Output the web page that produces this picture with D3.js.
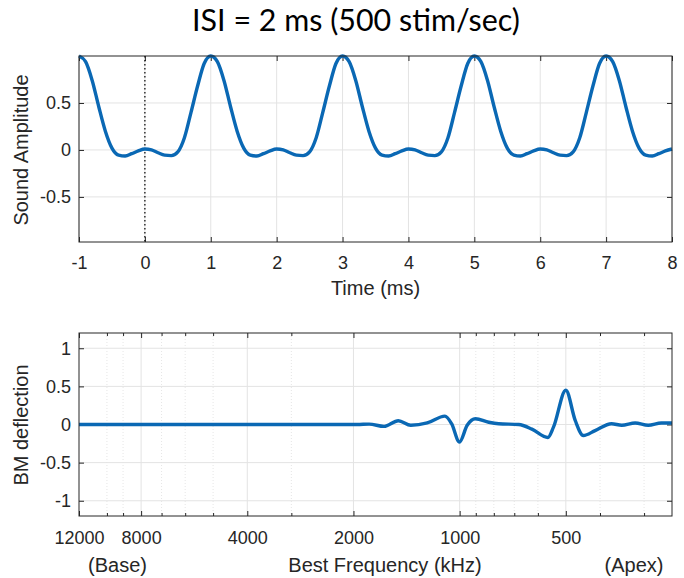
<!DOCTYPE html>
<html>
<head>
<meta charset="utf-8">
<script src="https://cdn.jsdelivr.net/npm/d3@7"></script>
<style>
  body { margin: 0; background: #fff; }
  svg text { font-family: "Liberation Sans", Arial, sans-serif; fill: #262626; }
</style>
</head>
<body>
<div id="chart"></div>
<script>
// --- top panel: sound waveform, one sample every 0.1 ms starting at -1 ms
const timeStart = -1
const timeStep = 0.1
const soundAmplitude = [
  1.0, 0.94, 0.74, 0.46, 0.2, 0.02, -0.055, -0.065, -0.04, -0.01,
  0.01, 0.0, -0.03, -0.055, -0.06, -0.02, 0.13, 0.40, 0.68, 0.92,
  1.0, 0.94, 0.74, 0.46, 0.2, 0.02, -0.055, -0.065, -0.04, -0.01,
  0.01, 0.0, -0.03, -0.055, -0.06, -0.02, 0.13, 0.40, 0.68, 0.92,
  1.0, 0.94, 0.74, 0.46, 0.2, 0.02, -0.055, -0.065, -0.04, -0.01,
  0.01, 0.0, -0.03, -0.055, -0.06, -0.02, 0.13, 0.40, 0.68, 0.92,
  1.0, 0.94, 0.74, 0.46, 0.2, 0.02, -0.055, -0.065, -0.04, -0.01,
  0.01, 0.0, -0.03, -0.055, -0.06, -0.02, 0.13, 0.40, 0.68, 0.92,
  1.0, 0.94, 0.74, 0.46, 0.2, 0.02, -0.055, -0.065, -0.04, -0.01,
  0.01
]
const timeTicks = [-1, 0, 1, 2, 3, 4, 5, 6, 7, 8]
const ampTicks = [-0.5, 0, 0.5]

// --- bottom panel: BM deflection along the cochlea
const bestFreq = [12000, 10000, 8000, 6000, 4000, 3000, 2400, 2200, 1950, 1806,
  1638, 1492, 1376, 1236, 1101, 1054, 1001, 952, 902, 827,
  775, 680, 624, 562, 542, 500, 470, 446, 413, 371,
  347, 318, 292, 268, 253, 250]
const bmDeflection = [0, 0, 0, 0, 0, 0, 0, 0, 0, 0.005,
  -0.025, 0.05, -0.01, 0.02, 0.11, 0.01, -0.23, -0.01, 0.075, 0.03,
  0.01, 0, -0.06, -0.17, -0.035, 0.45, 0.05, -0.145, -0.08, 0.01,
  -0.01, 0.02, -0.01, 0.02, 0.02, 0.02]
const freqTicks = [12000, 8000, 4000, 2000, 1000, 500]
const freqMinorTicks = [10000, 9000, 7000, 6000, 5000, 3000, 900, 800, 700, 600, 400, 300]
const bmTicks = [-1, -0.5, 0, 0.5, 1]

const width = 684
const height = 578
const lineColor = '#0a68b4'
const axisColor = '#262626'
const gridColor = '#e3e3e3'

// plain hyphen minus, no trailing zeros (matlab style labels)
const fmt = d => String(d)

const svg = d3.select('#chart').append('svg')
  .attr('width', width)
  .attr('height', height)

// title
const title = svg.append('text')
  .attr('x', 356)
  .attr('y', 31)
  .attr('text-anchor', 'middle')
  .style('font-family', 'Lato, "Open Sans", sans-serif')
  .style('font-size', '26px')
  .style('fill', '#000')
  .text('ISI = 2 ms (500 stim/sec)')
let tl = title.node().getComputedTextLength()
title.style('font-size', (26 * 328 / tl) + 'px')

// grid lines behind the data
function panel (g, x, y, xTicks, yTicks, w, h) {
  g.selectAll('.vgrid').data(xTicks).enter().append('line')
    .attr('x1', d => x(d)).attr('x2', d => x(d))
    .attr('y1', 0).attr('y2', h)
    .attr('stroke', gridColor)
  g.selectAll('.hgrid').data(yTicks).enter().append('line')
    .attr('y1', d => y(d)).attr('y2', d => y(d))
    .attr('x1', 0).attr('x2', w)
    .attr('stroke', gridColor)
}

function styleAxis (sel) {
  sel.select('.domain').remove()
  sel.selectAll('line').attr('stroke', axisColor)
  sel.selectAll('text').style('font-size', '18px').attr('fill', axisColor)
}

// ---------- top panel
const top1 = { left: 79, right: 672, top: 56, bottom: 242 }
const w1 = top1.right - top1.left
const h1 = top1.bottom - top1.top

const xTime = d3.scaleLinear().domain([-1, 8]).range([0, w1])
const yAmp = d3.scaleLinear().domain([-0.98, 1]).range([h1, 0])

const g1 = svg.append('g').attr('transform', 'translate(' + top1.left + ',' + top1.top + ')')
panel(g1, xTime, yAmp, timeTicks, ampTicks, w1, h1)

g1.append('g').attr('transform', 'translate(0,' + h1 + ')')
  .call(d3.axisBottom(xTime).tickValues(timeTicks).tickFormat(fmt).tickSizeInner(-5).tickSizeOuter(0).tickPadding(14))
  .call(styleAxis)
g1.append('g')
  .call(d3.axisTop(xTime).tickValues(timeTicks).tickSizeInner(-5).tickSizeOuter(0).tickFormat(''))
  .call(styleAxis)
g1.append('g')
  .call(d3.axisLeft(yAmp).tickValues(ampTicks).tickFormat(fmt).tickSizeInner(-5).tickSizeOuter(0).tickPadding(8))
  .call(styleAxis)
g1.append('g').attr('transform', 'translate(' + w1 + ',0)')
  .call(d3.axisRight(yAmp).tickValues(ampTicks).tickSizeInner(-5).tickSizeOuter(0).tickFormat(''))
  .call(styleAxis)

// dotted marker at t = 0
g1.append('line')
  .attr('x1', xTime(0)).attr('x2', xTime(0))
  .attr('y1', 0).attr('y2', h1)
  .attr('stroke', '#000')
  .attr('stroke-width', 1.2)
  .attr('stroke-dasharray', '1.5,2.5')

const ampLine = d3.line()
  .x((d, i) => xTime(timeStart + i * timeStep))
  .y(d => yAmp(d))
  .curve(d3.curveMonotoneX)

g1.append('path')
  .datum(soundAmplitude)
  .attr('d', ampLine)
  .attr('fill', 'none')
  .attr('stroke', lineColor)
  .attr('stroke-width', 3.4)

g1.append('rect')
  .attr('width', w1).attr('height', h1)
  .attr('fill', 'none')
  .attr('stroke', axisColor)

svg.append('text')
  .attr('x', 375.5).attr('y', 295)
  .attr('text-anchor', 'middle')
  .style('font-size', '20px')
  .text('Time (ms)')

svg.append('text')
  .attr('transform', 'translate(28,150) rotate(-90)')
  .attr('text-anchor', 'middle')
  .style('font-size', '20px')
  .text('Sound Amplitude')

// ---------- bottom panel
const bot = { left: 79, right: 672, top: 333, bottom: 516 }
const w2 = bot.right - bot.left
const h2 = bot.bottom - bot.top

const xFreq = d3.scaleLog().domain([12000, 250]).range([0, w2])
const yBM = d3.scaleLinear().domain([-1.2, 1.2]).range([h2, 0])

const g2 = svg.append('g').attr('transform', 'translate(' + bot.left + ',' + bot.top + ')')

// minor grid is dotted
g2.selectAll('.mgrid').data(freqMinorTicks).enter().append('line')
  .attr('x1', d => xFreq(d)).attr('x2', d => xFreq(d))
  .attr('y1', 0).attr('y2', h2)
  .attr('stroke', '#e6e6e6')
  .attr('stroke-dasharray', '1,2')
panel(g2, xFreq, yBM, freqTicks.slice(1), bmTicks, w2, h2)

g2.append('g').attr('transform', 'translate(0,' + h2 + ')')
  .call(d3.axisBottom(xFreq).tickValues(freqTicks).tickFormat(fmt).tickSizeInner(-5).tickSizeOuter(0).tickPadding(15))
  .call(styleAxis)
g2.append('g').attr('transform', 'translate(0,' + h2 + ')')
  .call(d3.axisBottom(xFreq).tickValues(freqMinorTicks).tickFormat('').tickSizeInner(-3).tickSizeOuter(0))
  .call(styleAxis)
g2.append('g')
  .call(d3.axisTop(xFreq).tickValues(freqTicks).tickFormat('').tickSizeInner(-5).tickSizeOuter(0))
  .call(styleAxis)
g2.append('g')
  .call(d3.axisTop(xFreq).tickValues(freqMinorTicks).tickFormat('').tickSizeInner(-3).tickSizeOuter(0))
  .call(styleAxis)
g2.append('g')
  .call(d3.axisLeft(yBM).tickValues(bmTicks).tickFormat(fmt).tickSizeInner(-5).tickSizeOuter(0).tickPadding(8))
  .call(styleAxis)
g2.append('g').attr('transform', 'translate(' + w2 + ',0)')
  .call(d3.axisRight(yBM).tickValues(bmTicks).tickFormat('').tickSizeInner(-5).tickSizeOuter(0))
  .call(styleAxis)

const bmLine = d3.line()
  .x((d, i) => xFreq(bestFreq[i]))
  .y(d => yBM(d))
  .curve(d3.curveMonotoneX)

g2.append('path')
  .datum(bmDeflection)
  .attr('d', bmLine)
  .attr('fill', 'none')
  .attr('stroke', lineColor)
  .attr('stroke-width', 3.4)

g2.append('rect')
  .attr('width', w2).attr('height', h2)
  .attr('fill', 'none')
  .attr('stroke', axisColor)

svg.append('text')
  .attr('x', 385).attr('y', 572)
  .attr('text-anchor', 'middle')
  .style('font-size', '20px')
  .text('Best Frequency (kHz)')
svg.append('text')
  .attr('x', 117.5).attr('y', 572)
  .attr('text-anchor', 'middle')
  .style('font-size', '20px')
  .text('(Base)')
svg.append('text')
  .attr('x', 634).attr('y', 572)
  .attr('text-anchor', 'middle')
  .style('font-size', '20px')
  .text('(Apex)')

svg.append('text')
  .attr('transform', 'translate(28,425) rotate(-90)')
  .attr('text-anchor', 'middle')
  .style('font-size', '20px')
  .text('BM deflection')
</script>
</body>
</html>
